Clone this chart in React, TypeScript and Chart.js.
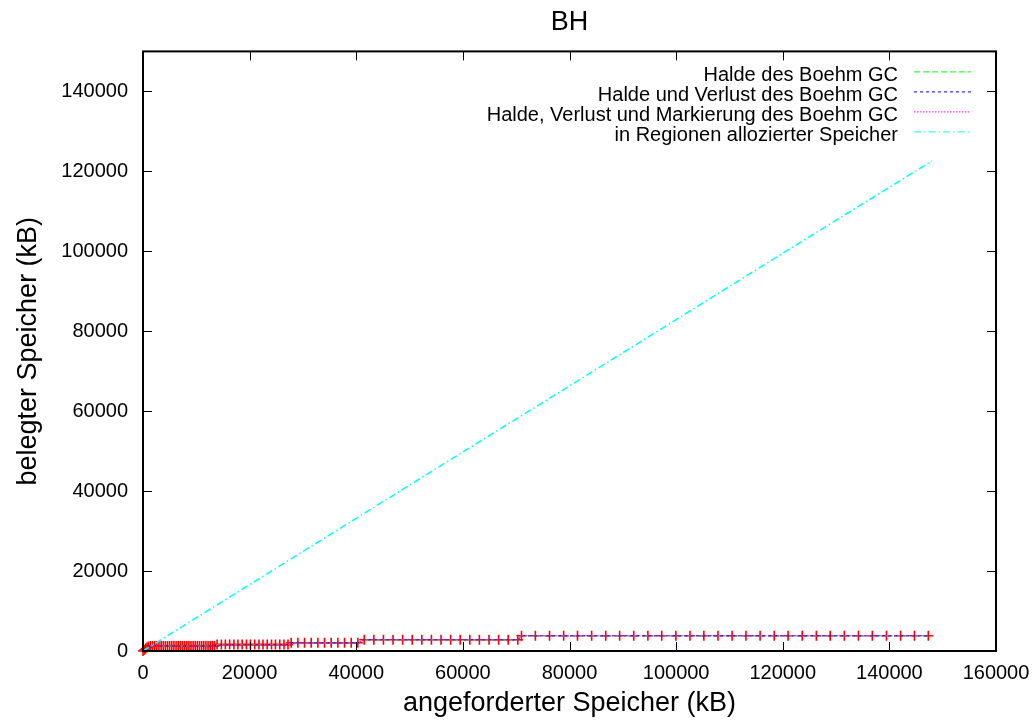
import React, { useEffect, useRef } from 'react';
import { Chart, registerables } from 'chart.js';

Chart.register(...registerables);

const FONT = "'Liberation Sans', Arial, sans-serif";

const chartTitle = 'BH';
const xAxisTitle = 'angeforderter Speicher (kB)';
const yAxisTitle = 'belegter Speicher (kB)';

const seriesLabels = [
  'Halde des Boehm GC',
  'Halde und Verlust des Boehm GC',
  'Halde, Verlust und Markierung des Boehm GC',
  'in Regionen allozierter Speicher',
];

// x positions of the measurements (requested memory, kB)
const requestedKB = [
  0, 250, 500, 750, 1000,
  1400, 1800, 2200, 2600, 3000, 3400, 3800, 4200, 4600, 5000, 5400, 5800, 6200, 6600, 7000, 7400,
  7800, 8200, 8600, 9000, 9400, 9800, 10200, 10600, 11000, 11400, 11800, 12200, 12600, 13000, 13400,
  13900, 14700, 15450, 16250, 17050, 17800, 18600, 19400, 20150, 20950, 21750, 22500, 23300, 24100,
  24850, 25650, 26450, 27200,
  27800, 29050, 30300, 31550, 32800, 34050, 35300, 36550, 37800, 39050, 40300,
  41500, 43300, 45100, 46900, 48700, 50500, 52300, 54100, 55900, 57700, 59500, 61300, 63100, 64900,
  66700, 68500, 70300,
  71000, 73600, 76250, 78900, 81500, 84150, 86800, 89400, 92050, 94700, 97300, 99950, 102600, 105200,
  107850, 110500, 113100, 115750, 118400, 121000, 123650, 126300, 128900, 131550, 134200, 136800,
  139450, 142100, 144700, 147300,
];

// heap size of the Boehm GC (kB)
const heapKB = [
  0, 300, 600, 900, 1150,
  1250, 1250, 1250, 1250, 1250, 1250, 1250, 1250, 1250, 1250, 1250, 1250, 1250, 1250, 1250, 1250,
  1250, 1250, 1250, 1250, 1250, 1250, 1250, 1250, 1250, 1250, 1250, 1250, 1250, 1250, 1250,
  1600, 1600, 1600, 1600, 1600, 1600, 1600, 1600, 1600, 1600, 1600, 1600, 1600, 1600,
  1600, 1600, 1600, 1600,
  2050, 2050, 2050, 2050, 2050, 2050, 2050, 2050, 2050, 2050, 2050,
  2800, 2800, 2800, 2800, 2800, 2800, 2800, 2800, 2800, 2800, 2800, 2800, 2800, 2800,
  2800, 2800, 2800,
  3800, 3800, 3800, 3800, 3800, 3800, 3800, 3800, 3800, 3800, 3800, 3800, 3800, 3800,
  3800, 3800, 3800, 3800, 3800, 3800, 3800, 3800, 3800, 3800, 3800, 3800,
  3800, 3800, 3800, 3800,
];

// heap + loss, and heap + loss + marking overlap the heap curve in the picture
const heapLossKB = heapKB;
const heapLossMarkKB = heapKB;

// memory allocated in regions (kB)
const regionRequestedKB = [0, 20000, 40000, 60000, 80000, 100000, 120000, 148000];
const regionAllocatedKB = [0, 16600, 33200, 49800, 66300, 82900, 99500, 122600];

const xMin = 0;
const xMax = 160000;
const xTickValues = [0, 20000, 40000, 60000, 80000, 100000, 120000, 140000, 160000];
const yMin = 0;
const yMax = 150000;
const yTickValues = [0, 20000, 40000, 60000, 80000, 100000, 120000, 140000];

const colors = {
  points: '#ff0000',
  heap: '#00ff00',
  heapLoss: '#0000ff',
  heapLossMark: '#ff00ff',
  region: '#00ffff',
};

const dashes = {
  heap: [6, 3],
  heapLoss: [3, 3],
  heapLossMark: [1.5, 1.5],
  region: [7, 3, 1.5, 3],
};

const toPoints = (xs: number[], ys: number[]) => xs.map((x, i) => ({ x, y: ys[i] }));

const gnuplotPlugin = {
  id: 'gnuplotFrame',
  afterDatasetsDraw(chart: any) {
    const { ctx, chartArea: a, scales } = chart;
    const xs = scales.x;
    const ys = scales.y;
    ctx.save();
    ctx.strokeStyle = '#000';
    ctx.lineWidth = 1;
    ctx.setLineDash([]);
    ctx.beginPath();
    xs.ticks.forEach((t: any) => {
      const px = Math.round(xs.getPixelForValue(t.value)) + 0.5;
      ctx.moveTo(px, a.bottom);
      ctx.lineTo(px, a.bottom - 9);
      ctx.moveTo(px, a.top);
      ctx.lineTo(px, a.top + 9);
    });
    ys.ticks.forEach((t: any) => {
      const py = Math.round(ys.getPixelForValue(t.value)) + 0.5;
      ctx.moveTo(a.left, py);
      ctx.lineTo(a.left + 9, py);
      ctx.moveTo(a.right, py);
      ctx.lineTo(a.right - 9, py);
    });
    ctx.stroke();
    ctx.lineWidth = 2;
    ctx.strokeRect(a.left, a.top, a.right - a.left, a.bottom - a.top);

    // legend (gnuplot style: right-aligned text, sample on the right)
    const items = chart.data.datasets.filter((d: any) => d.label);
    ctx.font = `20px ${FONT}`;
    ctx.fillStyle = '#000';
    ctx.textAlign = 'right';
    ctx.textBaseline = 'middle';
    items.forEach((d: any, i: number) => {
      const ly = a.top + 20 + i * 20;
      ctx.fillText(d.label, a.right - 98, ly + 4);
      ctx.beginPath();
      ctx.strokeStyle = d.borderColor;
      ctx.lineWidth = 1;
      ctx.setLineDash(d.borderDash || []);
      ctx.moveTo(a.right - 82, ly + 0.5);
      ctx.lineTo(a.right - 25, ly + 0.5);
      ctx.stroke();
    });
    ctx.restore();
  },
};

export default function App() {
  const canvasRef = useRef<HTMLCanvasElement | null>(null);

  useEffect(() => {
    if (!canvasRef.current) return;
    const lineCommon = {
      showLine: true,
      pointRadius: 0,
      borderWidth: 1,
      fill: false,
      tension: 0,
      clip: 8,
    };
    const chart = new Chart(canvasRef.current, {
      type: 'scatter',
      data: {
        datasets: [
          {
            label: '',
            data: toPoints(requestedKB, heapKB),
            showLine: false,
            pointStyle: 'cross',
            pointRadius: 5,
            borderColor: colors.points,
            backgroundColor: colors.points,
            pointBorderWidth: 1.6,
            order: 10,
            clip: 8,
          } as any,
          {
            ...lineCommon,
            label: seriesLabels[0],
            data: toPoints(requestedKB, heapKB),
            borderColor: colors.heap,
            borderDash: dashes.heap,
            order: 4,
          },
          {
            ...lineCommon,
            label: seriesLabels[1],
            data: toPoints(requestedKB, heapLossKB),
            borderColor: colors.heapLoss,
            borderDash: dashes.heapLoss,
            order: 3,
          },
          {
            ...lineCommon,
            label: seriesLabels[2],
            data: toPoints(requestedKB, heapLossMarkKB),
            borderColor: colors.heapLossMark,
            borderDash: dashes.heapLossMark,
            order: 2,
          },
          {
            ...lineCommon,
            label: seriesLabels[3],
            data: toPoints(regionRequestedKB, regionAllocatedKB),
            borderColor: colors.region,
            borderDash: dashes.region,
            borderWidth: 1.5,
            order: 1,
          },
        ],
      },
      options: {
        responsive: false,
        animation: false,
        devicePixelRatio: 1,
        layout: { padding: { left: 0, right: 38, top: 0, bottom: 0 } },
        plugins: {
          legend: { display: false },
          tooltip: { enabled: false },
          title: {
            display: true,
            text: chartTitle,
            color: '#000',
            font: { family: FONT, size: 27, weight: 'normal' },
            padding: { top: 6, bottom: 13 },
            fullSize: false,
          },
        },
        scales: {
          x: {
            type: 'linear',
            min: xMin,
            max: xMax,
            grid: { display: false, drawTicks: false },
            border: { display: false },
            afterBuildTicks(scale: any) {
              scale.ticks = xTickValues.map((v) => ({ value: v }));
            },
            ticks: {
              autoSkip: false,
              maxRotation: 0,
              padding: 10,
              color: '#000',
              font: { family: FONT, size: 20 },
              callback: (v: any) => String(v),
            },
            title: {
              display: true,
              text: xAxisTitle,
              color: '#000',
              font: { family: FONT, size: 27 },
              padding: { top: 0, bottom: 0 },
            },
            afterFit(scale: any) {
              scale.paddingRight = 0;
              scale.height = 69;
            },
          },
          y: {
            type: 'linear',
            min: yMin,
            max: yMax,
            grid: { display: false, drawTicks: false },
            border: { display: false },
            afterBuildTicks(scale: any) {
              scale.ticks = yTickValues.map((v) => ({ value: v }));
            },
            ticks: {
              autoSkip: false,
              padding: 15,
              color: '#000',
              font: { family: FONT, size: 20 },
              callback: (v: any) => String(v),
            },
            title: {
              display: true,
              text: yAxisTitle,
              color: '#000',
              font: { family: FONT, size: 27 },
              padding: { top: 12, bottom: 0 },
            },
            afterFit(scale: any) {
              scale.width = 143;
            },
          },
        },
      } as any,
      plugins: [gnuplotPlugin],
    });
    return () => chart.destroy();
  }, []);

  return (
    <div style={{ position: 'absolute', left: 0, top: 0, width: 1034, height: 720, background: '#fff' }}>
      <canvas ref={canvasRef} width={1034} height={720} style={{ display: 'block' }} />
    </div>
  );
}
